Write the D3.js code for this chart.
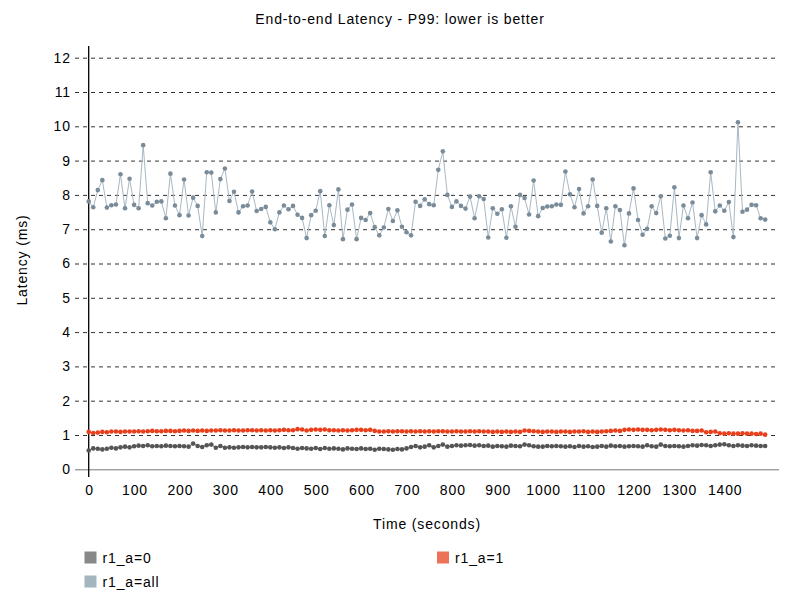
<!DOCTYPE html>
<html><head><meta charset="utf-8">
<script src="https://cdn.jsdelivr.net/npm/d3@7"></script>
<style>body{margin:0;background:#fff} text{font-family:"Liberation Sans",Arial,Helvetica,sans-serif;letter-spacing:0.85px;}</style>
</head><body><svg id="c" width="800" height="600"></svg>
<script>
const title = "End-to-end Latency - P99: lower is better";
const xLabel = "Time (seconds)";
const yLabel = "Latency (ms)";
const times = d3.range(0, 1500, 10);
const xTicks = [0,100,200,300,400,500,600,700,800,900,1000,1100,1200,1300,1400];
const yTicks = [0,1,2,3,4,5,6,7,8,9,10,11,12];
const seriesNames = ["r1_a=0","r1_a=1","r1_a=all"];
const seriesColors = ["#555555","#e8401c","#7a8c99"];
const lineColors = ["#6a6a6a","#e8401c","#a8b8c2"];
const legendColors = ["#888888","#ec7358","#a3b5bf"];

const a0 = [
0.55,0.61,0.60,0.58,0.60,0.63,0.61,0.64,0.66,0.64,
0.67,0.69,0.68,0.70,0.67,0.68,0.67,0.69,0.68,0.67,
0.68,0.67,0.66,0.75,0.68,0.65,0.70,0.72,0.63,0.68,
0.63,0.64,0.63,0.64,0.65,0.64,0.65,0.64,0.64,0.65,
0.64,0.63,0.64,0.62,0.64,0.62,0.60,0.62,0.61,0.60,
0.62,0.59,0.62,0.60,0.61,0.60,0.58,0.61,0.60,0.59,
0.61,0.59,0.60,0.57,0.60,0.59,0.58,0.57,0.59,0.58,
0.61,0.65,0.68,0.64,0.66,0.70,0.64,0.68,0.72,0.66,
0.68,0.70,0.69,0.70,0.71,0.69,0.70,0.68,0.69,0.66,
0.68,0.67,0.66,0.69,0.68,0.67,0.72,0.70,0.67,0.66,
0.66,0.68,0.67,0.68,0.67,0.66,0.67,0.65,0.68,0.66,
0.67,0.65,0.66,0.68,0.66,0.69,0.67,0.68,0.66,0.67,
0.68,0.67,0.66,0.70,0.67,0.66,0.72,0.68,0.67,0.68,
0.67,0.66,0.68,0.70,0.69,0.71,0.70,0.68,0.70,0.72,
0.73,0.70,0.68,0.70,0.69,0.68,0.70,0.69,0.68,0.68];

const a1 = [
1.09,1.06,1.07,1.09,1.08,1.10,1.10,1.09,1.10,1.10,
1.10,1.11,1.10,1.11,1.12,1.11,1.11,1.12,1.12,1.11,
1.12,1.13,1.12,1.13,1.12,1.13,1.12,1.13,1.13,1.14,
1.13,1.13,1.14,1.13,1.13,1.14,1.14,1.13,1.14,1.13,
1.14,1.13,1.14,1.15,1.14,1.14,1.17,1.16,1.13,1.15,
1.16,1.15,1.16,1.14,1.14,1.13,1.14,1.13,1.14,1.15,
1.15,1.14,1.15,1.12,1.10,1.10,1.11,1.10,1.11,1.11,
1.10,1.11,1.10,1.11,1.10,1.11,1.10,1.11,1.11,1.10,
1.10,1.11,1.10,1.10,1.11,1.10,1.11,1.10,1.10,1.09,
1.10,1.09,1.10,1.09,1.10,1.09,1.13,1.12,1.11,1.10,
1.09,1.10,1.10,1.09,1.10,1.10,1.09,1.10,1.10,1.11,
1.09,1.10,1.09,1.10,1.11,1.12,1.13,1.12,1.15,1.16,
1.15,1.16,1.15,1.15,1.14,1.15,1.16,1.15,1.14,1.15,
1.14,1.13,1.14,1.12,1.12,1.13,1.08,1.09,1.10,1.05,
1.04,1.05,1.04,1.04,1.05,1.04,1.04,1.03,1.04,1.01];

const aAll = [
7.81,7.64,8.14,8.43,7.63,7.70,7.72,8.60,7.61,8.47,
7.71,7.61,9.45,7.76,7.69,7.80,7.81,7.32,8.62,7.69,
7.41,8.45,7.40,7.92,7.68,6.80,8.66,8.65,7.49,8.46,
8.77,7.82,8.09,7.49,7.67,7.69,8.10,7.53,7.59,7.65,
7.20,7.00,7.49,7.69,7.58,7.68,7.42,7.33,6.74,7.41,
7.54,8.11,6.80,7.70,7.12,8.16,6.71,7.57,7.72,6.71,
7.33,7.27,7.47,7.06,6.82,7.05,7.59,7.24,7.55,7.07,
6.91,6.82,7.80,7.68,7.87,7.73,7.70,8.73,9.27,8.00,
7.65,7.81,7.68,7.60,7.95,7.32,7.96,7.88,6.76,7.61,
7.45,7.58,6.75,7.67,7.07,8.00,7.91,7.43,8.42,7.38,
7.62,7.66,7.67,7.72,7.71,8.68,8.02,7.64,8.17,7.46,
7.67,8.45,7.68,6.90,7.61,6.64,7.67,7.56,6.53,7.46,
8.19,7.27,6.84,7.01,7.67,7.47,7.96,6.73,6.81,8.22,
6.74,7.69,7.32,7.78,6.74,7.41,7.14,8.66,7.52,7.69,
7.54,7.79,6.77,10.12,7.51,7.57,7.71,7.70,7.32,7.28];

const seriesValues = [a0, a1, aAll];

const svg = d3.select("#c");
const x = d3.scaleLinear().domain([0, 1520]).range([88.7, 778.8]);
const y = d3.scaleLinear().domain([0, 12]).range([469.3, 57.7]);
const gridLeft = 75, gridRight = 779;
const FS = "14px";

// title
svg.append("text").attr("x", 400).attr("y", 24).attr("text-anchor", "middle")
  .style("font-size", FS).attr("fill", "#000").text(title);

// y grid + labels
const gy = svg.append("g").attr("transform", `translate(${gridLeft},0)`)
  .call(d3.axisLeft(y).tickValues(yTicks).tickSize(-(gridRight - gridLeft)).tickPadding(5).tickFormat(d3.format("d")));
gy.select(".domain").remove();
gy.selectAll(".tick line")
  .attr("stroke", d => d === 0 ? "#777" : "#333")
  .attr("stroke-dasharray", d => d === 0 ? null : "4,4");
gy.selectAll(".tick text").style("font-size", FS).attr("fill", "#000")
  .style("font-family", "'Liberation Sans',Arial,sans-serif").style("letter-spacing", "0.85px").attr("dx", "0.85");

// x axis labels
const gx = svg.append("g").attr("transform", `translate(0,${y(0)})`)
  .call(d3.axisBottom(x).tickValues(xTicks).tickSize(0).tickPadding(16).tickFormat(d3.format("d")));
gx.select(".domain").remove();
gx.selectAll(".tick text").style("font-size", FS).attr("fill", "#000")
  .style("font-family", "'Liberation Sans',Arial,sans-serif").style("letter-spacing", "0.85px").attr("dx", "0.4");

// y axis line
svg.append("line").attr("x1", x(0)).attr("x2", x(0)).attr("y1", 46).attr("y2", 477)
  .attr("stroke", "#000").attr("stroke-width", 1.3);

// axis titles
svg.append("text").attr("x", 427).attr("y", 529).attr("text-anchor", "middle")
  .style("font-size", FS).text(xLabel);
svg.append("text").attr("transform", "translate(27,260) rotate(-90)").attr("text-anchor", "middle")
  .style("font-size", FS).text(yLabel);

// series
const line = d3.line().x((d, i) => x(times[i])).y(d => y(d));
seriesValues.forEach((vals, k) => {
  const g = svg.append("g");
  g.append("path").datum(vals).attr("d", line).attr("fill", "none")
    .attr("stroke", lineColors[k]).attr("stroke-width", 1);
  g.selectAll("circle").data(vals).enter().append("circle")
    .attr("cx", (d, i) => x(times[i])).attr("cy", d => y(d)).attr("r", 2.3)
    .attr("fill", seriesColors[k]);
});

// legend
const legendPos = [[84.5, 551.5], [437, 551.5], [84.5, 575.5]];
seriesNames.forEach((name, k) => {
  const [lx, ly] = legendPos[k];
  svg.append("rect").attr("x", lx).attr("y", ly).attr("width", 12).attr("height", 12)
    .attr("fill", legendColors[k]);
  svg.append("text").attr("x", lx + 18).attr("y", ly + 11)
    .style("font-size", FS).text(name);
});
</script></body></html>
